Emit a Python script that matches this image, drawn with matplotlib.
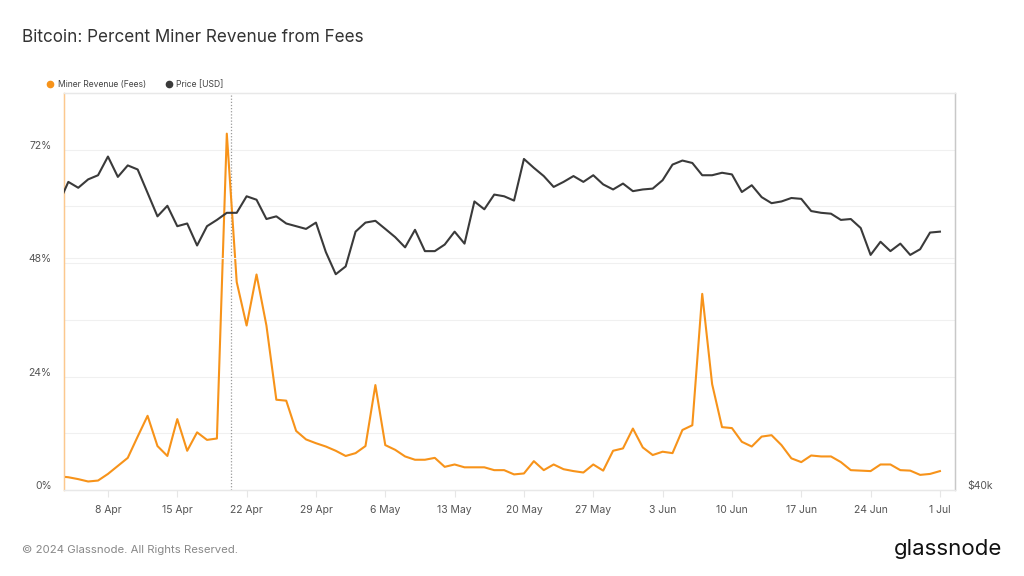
import matplotlib
matplotlib.use("Agg")
import matplotlib.pyplot as plt
import matplotlib.dates as mdates
from matplotlib.lines import Line2D
from matplotlib.transforms import ScaledTranslation
import pandas as pd

plt.rcParams["font.family"] = ["Inter", "DejaVu Sans"]

# ---------------------------------------------------------------------------
# data
# ---------------------------------------------------------------------------
dates = pd.date_range("2024-04-03", "2024-07-01", freq="D")

fees_pct = [
    # Apr 3 - Apr 30
    2.9, 2.7, 2.3, 1.8, 2.0, 3.4, 5.1, 6.8, 11.3, 15.7, 9.3, 7.2, 15.0, 8.3,
    12.2, 10.6, 10.9, 75.4, 44.0, 34.8, 45.6, 34.8, 19.1, 18.9, 12.5, 10.7, 9.9, 9.2,
    # May
    8.3, 7.2, 7.8, 9.3, 22.2, 9.5, 8.5, 7.1, 6.4, 6.4, 6.8, 4.9, 5.4, 4.8, 4.8, 4.8,
    4.2, 4.2, 3.3, 3.5, 6.1, 4.2, 5.4, 4.4, 4.0, 3.7, 5.4, 4.1, 8.3, 8.8, 13.0,
    # Jun
    9.0, 7.4, 8.1, 7.8, 12.7, 13.7, 41.5, 22.4, 13.3, 13.1, 10.2, 9.2, 11.3, 11.6, 9.5,
    6.7, 5.9, 7.3, 7.1, 7.1, 5.9, 4.2, 4.1, 4.0, 5.4, 5.4, 4.2, 4.1, 3.2, 3.4,
    # Jul 1
    4.0,
]

price_k = [
    # Apr 3 - Apr 30
    65.9, 68.5, 67.8, 68.8, 69.3, 71.6, 69.1, 70.5, 70.0, 67.2, 64.5, 65.7, 63.4, 63.7,
    61.3, 63.4, 64.1, 64.9, 64.9, 66.8, 66.4, 64.2, 64.5, 63.7, 63.4, 63.1, 63.8, 60.6,
    # May
    58.3, 59.1, 62.8, 63.8, 64.0, 63.1, 62.2, 61.1, 63.0, 60.7, 60.7, 61.4, 62.8, 61.5,
    66.2, 65.3, 67.0, 66.8, 66.3, 71.3, 70.2, 69.2, 67.9, 68.5, 69.2, 68.5, 69.3, 68.2,
    67.6, 68.3, 67.4,
    # Jun
    67.6, 67.7, 68.7, 70.6, 71.1, 70.8, 69.3, 69.3, 69.6, 69.4, 67.3, 68.1, 66.7, 66.0,
    66.2, 66.6, 66.5, 65.1, 64.9, 64.8, 64.1, 64.2, 63.2, 60.3, 61.7, 60.7, 61.5, 60.3,
    60.9, 62.7,
    # Jul 1
    62.8,
]
price_usd = [p * 1000 for p in price_k]

left_ticks = [0, 24, 48, 72]
left_tick_labels = ["0%", "24%", "48%", "72%"]
halving = pd.Timestamp("2024-04-20 10:00")

ORANGE = "#f7931a"
DARK = "#3a3a3a"
GRID = "#f0f0f0"

# ---------------------------------------------------------------------------
# figure
# ---------------------------------------------------------------------------
fig = plt.figure(figsize=(10.24, 5.76), dpi=100)
ax = fig.add_axes([64 / 1024, 1 - 490 / 576, 891 / 1024, 397 / 576])
ax2 = ax.twinx()

ax.plot(dates, fees_pct, color=ORANGE, lw=1.5, zorder=3)
ax2.plot(dates, price_usd, color=DARK, lw=1.5, zorder=3)

# left axis (percent)
ax.set_ylim(0, 84)
ax.set_yticks(left_ticks)
ax.set_yticklabels(left_tick_labels)
for y in range(12, 84, 12):
    ax.axhline(y, color=GRID, lw=0.8, zorder=0)
ax.tick_params(axis="y", length=0, pad=9, labelsize=7.5, labelcolor="#555555")
for lbl in ax.get_yticklabels():
    lbl.set_transform(lbl.get_transform() + ScaledTranslation(0, 0.05, fig.dpi_scale_trans))

# right axis (price, log)
ax2.set_yscale("log")
ax2.set_ylim(40000, 80000)
ax2.yaxis.set_minor_locator(matplotlib.ticker.NullLocator())
ax2.set_yticks([40000])
ax2.set_yticklabels(["$40k"])
ax2.axhline(60000, color=GRID, lw=0.8, zorder=0)
ax2.tick_params(axis="y", length=0, pad=9, labelsize=7.5, labelcolor="#555555")
for lbl in ax2.get_yticklabels():
    lbl.set_transform(lbl.get_transform() + ScaledTranslation(0, 0.05, fig.dpi_scale_trans))

# x axis
ax.set_xlim(pd.Timestamp("2024-04-03 13:30"), pd.Timestamp("2024-07-02 12:30"))
ax.xaxis.set_major_locator(mdates.WeekdayLocator(byweekday=mdates.MO))
ax.xaxis.set_major_formatter(mdates.DateFormatter("%-d %b"))
ax.tick_params(axis="x", length=5, width=0.8, color="#e6e6e6", pad=6,
               labelsize=7.5, labelcolor="#555555")

ax.axvline(halving, color="#9a9a9a", lw=0.9, ls=(0, (1, 1.5)), zorder=2)

# spines
for a in (ax, ax2):
    a.spines["top"].set_color("#e8e8e8")
    a.spines["bottom"].set_color("#e8e8e8")
    a.spines["left"].set_color("#fcc88e")
    a.spines["right"].set_color("#c8c8c8")
    for s in a.spines.values():
        s.set_linewidth(0.9)

# legend
handles = [
    Line2D([], [], marker="o", ls="none", color=ORANGE, markersize=4.5),
    Line2D([], [], marker="o", ls="none", color=DARK, markersize=4.5),
]
fig.legend(handles, ["Miner Revenue (Fees)", "Price [USD]"],
           loc="center left", bbox_to_anchor=(40 / 1024, 1 - 85 / 576),
           ncol=2, frameon=False, fontsize=6.2, handlelength=0.6,
           handletextpad=0.55, columnspacing=2.4, labelcolor="#444444")

# title / footer
fig.text(22 / 1024, 1 - 37 / 576, "Bitcoin: Percent Miner Revenue from Fees",
         fontsize=12.3, color="#333333", va="center", ha="left")
fig.text(22 / 1024, 1 - 550 / 576, "\u00a9 2024 Glassnode. All Rights Reserved.",
         fontsize=8.2, color="#888888", va="center", ha="left")
fig.text(1002 / 1024, 1 - 549 / 576, "glassnode", fontsize=16, color="#111111",
         va="center", ha="right")

fig.savefig("out.png", dpi=100)
